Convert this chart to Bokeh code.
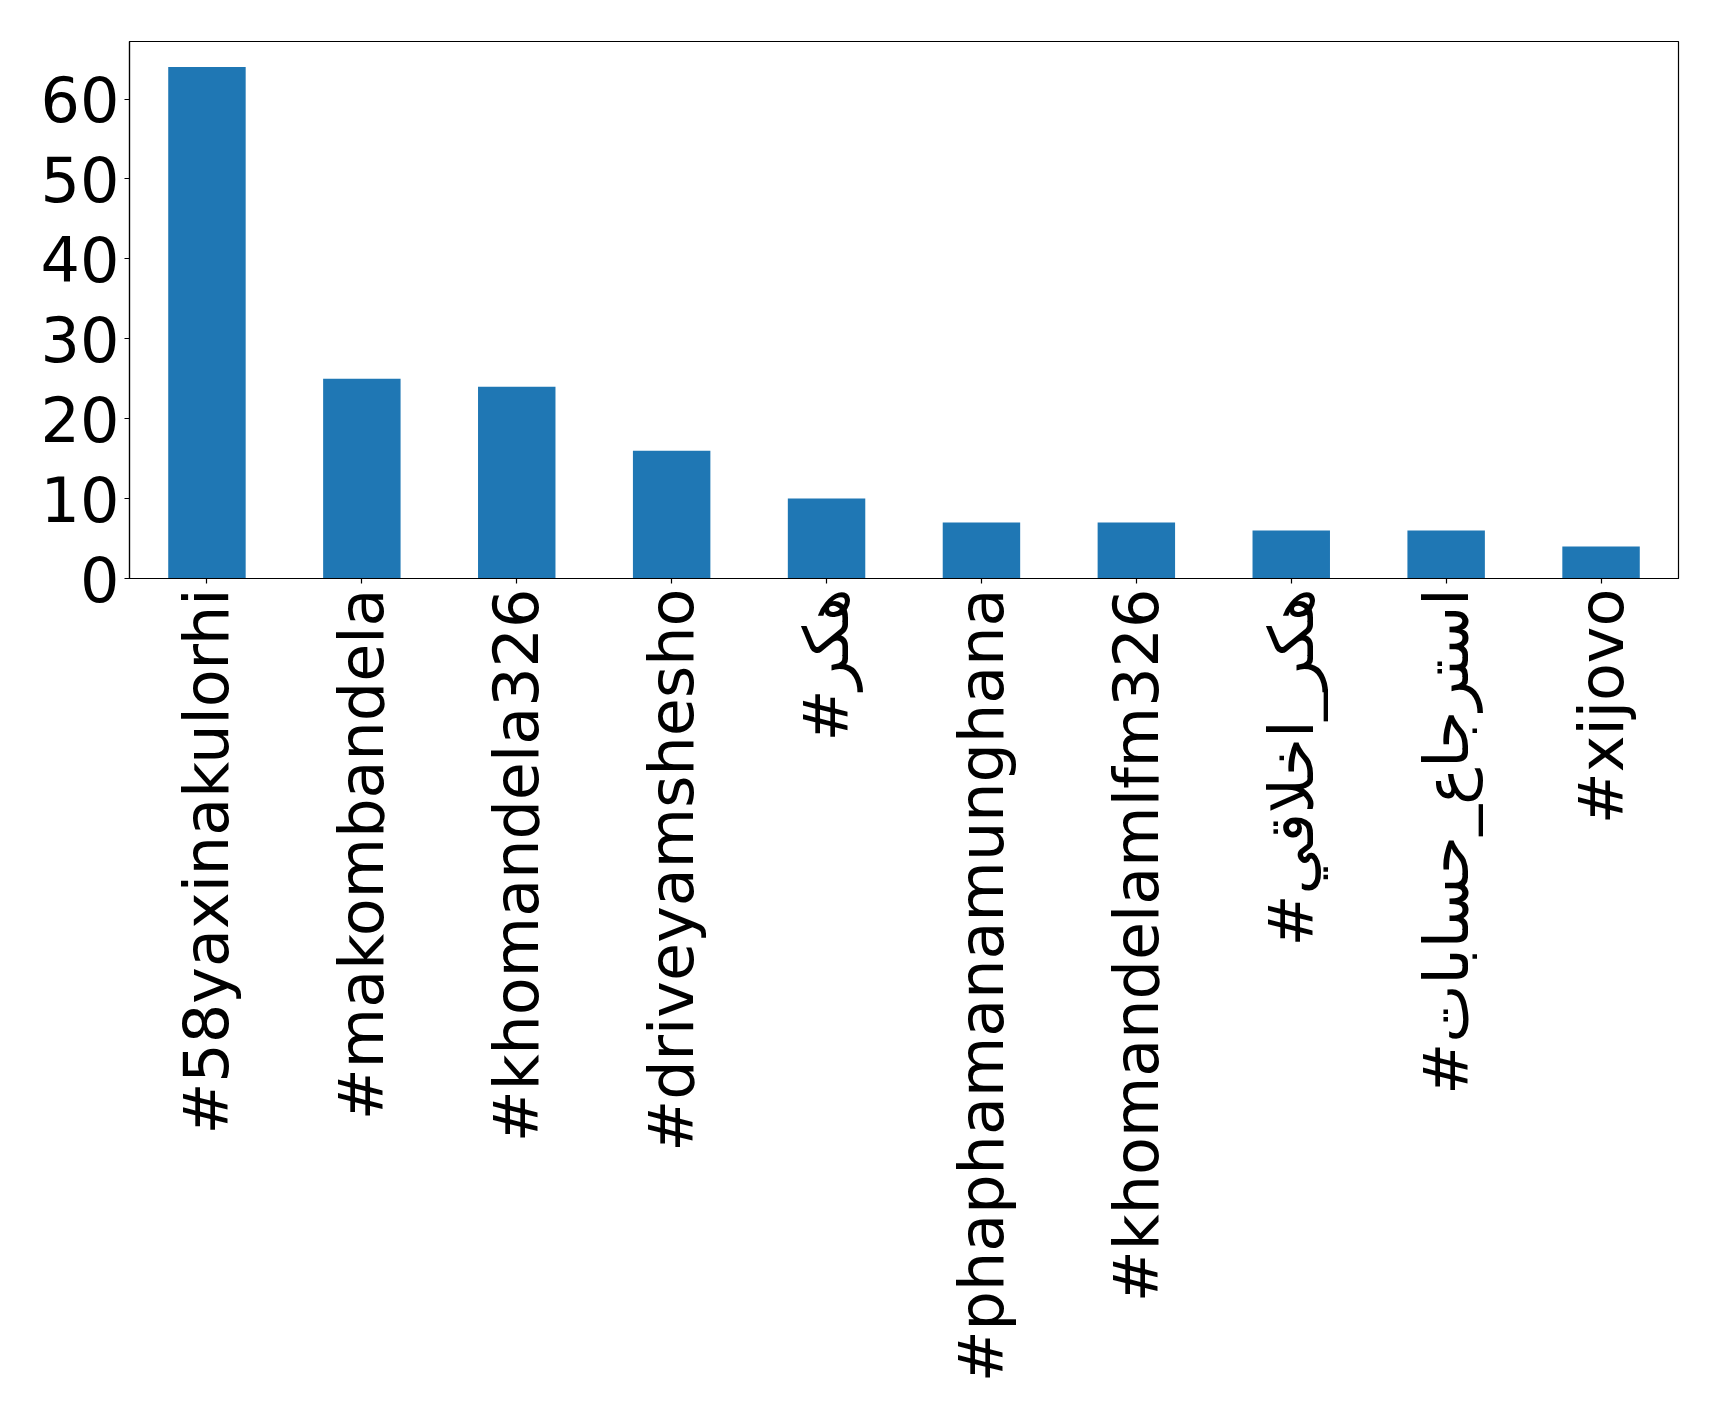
import math
from bokeh.plotting import figure
from bokeh.models import FactorRange, Range1d, ColumnDataSource
from bokeh.embed import file_html
from bokeh.resources import INLINE

hashtags = ["#58yaxinakulorhi", "#makombandela", "#khomandela326", "#driveyamshesho",
            "#هکر", "#phaphamanamunghana", "#khomandelamlfm326", "#هکر_اخلاقي",
            "#استرجاع_حسابات", "#xijovo"]
counts = [64, 25, 24, 16, 10, 7, 7, 6, 6, 4]
y_ticks = [0, 10, 20, 30, 40, 50, 60]

src = ColumnDataSource(data=dict(tag=hashtags, count=counts))

p = figure(x_range=FactorRange(*hashtags), y_range=Range1d(0, 67.2),
           frame_width=1549, frame_height=537,
           min_border_left=129, min_border_top=41, min_border_right=30,
           output_backend="svg", toolbar_location=None)

p.vbar(x="tag", top="count", width=0.5, source=src, color="#1f77b4", line_color=None)

p.xgrid.visible = False
p.ygrid.visible = False
p.outline_line_color = "black"
p.outline_line_width = 1.2

for ax in (p.xaxis[0], p.yaxis[0]):
    ax.major_label_text_font = "DejaVu Sans"
    ax.major_label_text_font_size = "62px"
    ax.major_label_text_color = "black"
    ax.axis_line_color = "black"
    ax.axis_line_width = 1.2
    ax.major_tick_line_color = "black"
    ax.major_tick_line_width = 1.2
    ax.major_tick_out = 5
    ax.major_tick_in = 0
    ax.minor_tick_out = 0
    ax.minor_tick_in = 0
    ax.major_label_standoff = 5

p.yaxis.ticker = y_ticks
p.xaxis.major_label_orientation = math.pi / 2

open("out.html", "w").write(file_html(p, INLINE))
